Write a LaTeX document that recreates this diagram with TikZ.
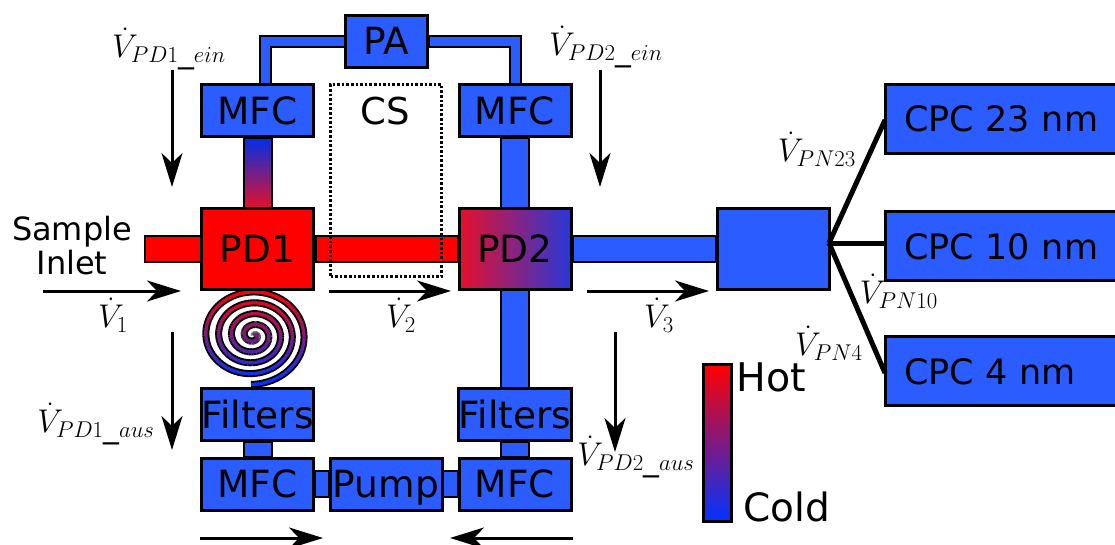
\documentclass[tikz,border=0pt]{standalone}
\usepackage{fontspec}
\setmainfont{DejaVu Sans}
\usetikzlibrary{calc,arrows.meta}
\definecolor{cblue}{HTML}{2A5CFF}
\definecolor{hotc}{HTML}{FF0000}
\definecolor{coldc}{HTML}{0033FF}
\definecolor{midl}{HTML}{E5102A}
\definecolor{midr}{HTML}{2838D8}
\newcommand{\fs}[1]{\fontsize{#1}{#1}\selectfont}
\newcommand{\vlab}[1]{$\dot{V}_{#1}$}
\tikzset{
  boxn/.style={draw=black,line width=3pt,fill=cblue,inner sep=0pt,outer sep=0pt,minimum width=112pt,minimum height=52pt,text=black,font=\fs{37.5},text height=27pt,text depth=0pt},
  hotbox/.style={boxn,minimum height=80pt},
  cpc/.style={boxn,minimum width=242pt,minimum height=69pt,font=\fs{35},text width=204pt,align=left,text height=26pt},
  pipe/.style={draw=black,line width=2pt,fill=cblue},
  redpipe/.style={draw=black,line width=2pt,fill=hotc},
  flow/.style={draw=black,line width=3pt,-{Stealth[length=34pt,width=21pt,inset=10pt]}},
  branch/.style={draw=black,line width=5pt},
  lab/.style={inner sep=0pt,outer sep=0pt,scale=1.32,font=\fs{24}},
  txt/.style={inner sep=0pt,outer sep=0pt,text=black}
}
\begin{document}
\begin{tikzpicture}[x=1pt,y=-1pt]
\useasboundingbox (0,0) rectangle (1115,545);
% coil
\begin{scope}[shift={(254,335.5)}]
  \foreach \i in {1,...,360}{
    \pgfmathsetmacro{\ta}{(\i-1)*4.5}
    \pgfmathsetmacro{\tb}{\i*4.5+0.6}
    \pgfmathsetmacro{\ra}{\ta/1620*49}
    \pgfmathsetmacro{\rb}{\tb/1620*49}
    \pgfmathsetmacro{\xa}{1.13*\ra*sin(\ta)-\ta/1620*2.4}
    \pgfmathsetmacro{\xb}{1.13*\rb*sin(\tb)-\tb/1620*2.4}
    \draw[black,line width=7pt,line cap=butt] (\xa,{-\ra*cos(\ta)}) -- (\xb,{-\rb*cos(\tb)});
  }
  \foreach \i in {1,...,360}{
    \pgfmathsetmacro{\ta}{(\i-1)*4.5}
    \pgfmathsetmacro{\tb}{\i*4.5+0.6}
    \pgfmathsetmacro{\ra}{\ta/1620*49}
    \pgfmathsetmacro{\rb}{\tb/1620*49}
    \pgfmathsetmacro{\xa}{1.13*\ra*sin(\ta)-\ta/1620*2.4}
    \pgfmathsetmacro{\xb}{1.13*\rb*sin(\tb)-\tb/1620*2.4}
    \pgfmathsetmacro{\mixv}{max(0,min(100,(-\ra*cos(\ta)+46)/92*100))}
    \draw[coldc!\mixv!hotc,line width=3.3pt,line cap=butt] (\xa,{-\ra*cos(\ta)}) -- (\xb,{-\rb*cos(\tb)});
  }
\end{scope}
% boxes
\node[boxn,minimum width=82pt] (pa) at (386.5,41.5) {PA};
\node[boxn] (mfca) at (257.5,111) {MFC};
\node[boxn] (mfcb) at (515,111) {MFC};
\node[hotbox,fill=hotc] (pda) at (257.5,249) {PD1};
\node[hotbox,left color=midl,right color=midr] (pdb) at (515,249) {PD2};
\node[boxn] (fila) at (257.5,414.5) {Filters};
\node[boxn] (filb) at (515,414.5) {Filters};
\node[boxn] (mfcc) at (257.5,484) {MFC};
\node[boxn] (mfcd) at (515,484) {MFC};
\node[boxn] (pump) at (386,484) {Pump};
\node[boxn,minimum height=80pt] (split) at (773,249) {};
\node[cpc] (cpca) at (1006,119) {CPC 23 nm};
\node[cpc] (cpcb) at (1006,246) {CPC 10 nm};
\node[cpc] (cpcc) at (1006,371) {CPC 4 nm};
\node[draw=black,line width=3pt,inner sep=0pt,outer sep=0pt,minimum width=28pt,minimum height=157pt,top color=hotc,bottom color=coldc] (bar) at (717.5,443) {};
% pipes
\coordinate (inl) at (145,249);
\draw[redpipe] ($(inl)+(0,-13)$) rectangle ($(pda.west)+(-1,13)$);
\draw[redpipe] ($(pda.east)+(2,-13)$) rectangle ($(pdb.west)+(-1,13)$);
\draw[pipe] ($(pdb.east)+(2,-13)$) rectangle ($(split.west)+(-1,13)$);
\draw[pipe] ($(mfcb.south)+(-14,1)$) rectangle ($(pdb.north)+(14,-1)$);
\draw[draw=black,line width=2pt,top color=coldc!90!black,bottom color=midl] ($(mfca.south)+(-14,1)$) rectangle ($(pda.north)+(14,-1)$);
\draw[pipe] ($(pdb.south)+(-14,1)$) rectangle ($(filb.north)+(14,-1)$);
\draw[pipe] ($(fila.south)+(-14,1)$) rectangle ($(mfcc.north)+(14,-1)$);
\draw[pipe] ($(filb.south)+(-14,1)$) rectangle ($(mfcd.north)+(14,-1)$);
\draw[pipe] ($(mfcc.east)+(1,-13)$) rectangle ($(pump.west)+(-1,13)$);
\draw[pipe] ($(pump.east)+(1,-13)$) rectangle ($(mfcd.west)+(-1,13)$);
\draw[black,line width=13pt,line cap=butt,line join=miter] ($(mfca.north)+(7.5,-1)$) |- ($(pa.west)+(-1,0)$);
\draw[cblue,line width=9pt,line cap=butt,line join=miter] ($(mfca.north)+(7.5,-2)$) |- ($(pa.west)+(-2,0)$);
\draw[black,line width=13pt,line cap=butt,line join=miter] ($(mfcb.north)+(0,-1)$) |- ($(pa.east)+(1,0)$);
\draw[cblue,line width=9pt,line cap=butt,line join=miter] ($(mfcb.north)+(0,-2)$) |- ($(pa.east)+(2,0)$);
% chamber
\node[draw=black,line width=2.6pt,dotted,minimum width=111pt,minimum height=192pt,inner sep=0pt,outer sep=0pt] (cs) at (386,180.5) {};
\node[txt,font=\fs{37}] (cst) at (385.5,111) {CS};
% branches
\coordinate (hub) at (829,243);
\draw[branch] (hub) -- ($(cpca.west)+(0,1)$);
\draw[branch] (hub) -- (hub -| cpcb.west);
\draw[branch] (hub) -- ($(cpcc.west)+(0,2)$);
% flow arrows
\coordinate (f1a) at (43,291); \coordinate (f1b) at (181,291);
\coordinate (f2a) at (329,291); \coordinate (f2b) at (451,291);
\coordinate (f3a) at (587,291); \coordinate (f3b) at (709,291);
\coordinate (f4a) at (172,70); \coordinate (f4b) at (172,187);
\coordinate (f5a) at (172,332); \coordinate (f5b) at (172,450);
\coordinate (f6a) at (600,70); \coordinate (f6b) at (600,187);
\coordinate (f7a) at (615,332); \coordinate (f7b) at (615,452);
\coordinate (f8a) at (200,538); \coordinate (f8b) at (323,538);
\coordinate (f9a) at (573,538); \coordinate (f9b) at (450,538);
\foreach \k in {1,...,9}{\draw[flow] (f\k a) -- (f\k b);}
% labels
\node[txt,font=\fs{32},align=center] (si) at (72,246) {Sample\\[2pt]Inlet};
\node[txt,font=\fs{39.5}] (hot) at (771.5,377) {Hot};
\node[txt,font=\fs{39}] (cold) at (787,507) {Cold};
\node[lab] (l1) at (113,315) {\vlab{1}};
\node[lab] (l2) at (401,315) {\vlab{2}};
\node[lab] (l3) at (659,315) {\vlab{3}};
\node[lab] (l4) at (169,49) {\vlab{PD1\_ein}};
\node[lab] (l5) at (606,47) {\vlab{PD2\_ein}};
\node[lab] (l6) at (96,424) {\vlab{PD1\_aus}};
\node[lab] (l7) at (636,457) {\vlab{PD2\_aus}};
\node[lab] (l8) at (817,149) {\vlab{PN23}};
\node[lab] (l9) at (899,291) {\vlab{PN10}};
\node[lab] (l10) at (829,343) {\vlab{PN4}};
\end{tikzpicture}
\end{document}
